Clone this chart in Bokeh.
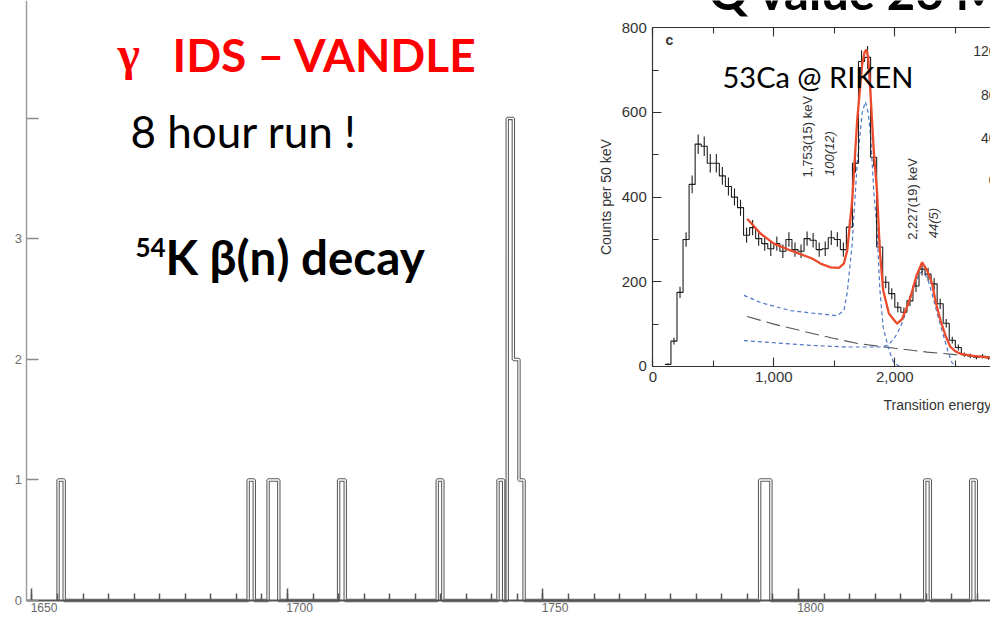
import numpy as np
from bokeh.plotting import figure
from bokeh.models import (Range1d, LinearAxis, SingleIntervalTicker, FixedTicker,
                          NumeralTickFormatter, Label)
from bokeh.core.properties import value
from bokeh.embed import file_html
from bokeh.resources import INLINE

# ---------------- main spectrum: IDS - VANDLE gamma, 54K beta(n) decay ----------------
gam_lo = [1655.1, 1692.3, 1696.2, 1710.0, 1729.3, 1741.2, 1743.0, 1744.2, 1745.3, 1792.4, 1824.7, 1833.7]
gam_hi = [1656.3, 1693.5, 1698.3, 1711.3, 1730.4, 1742.3, 1744.2, 1745.3, 1746.3, 1794.6, 1825.8, 1834.8]
gam_counts = [1, 1, 1, 1, 1, 1, 4, 2, 1, 1, 1, 1]
gam_xticks = [1650, 1700, 1750, 1800]
gam_xlabels = ["1650", "1700", "1750", "1800"]
gam_yticks = [0, 1, 2, 3, 4]

# ---------------- inset: 53Ca @ RIKEN neutron spectrum ----------------
ca_lo = [100, 150, 200, 250, 300, 350, 400, 450, 500, 550, 600, 650, 700, 750, 800, 850,
         900, 950, 1000, 1050, 1100, 1150, 1200, 1250, 1300, 1350, 1400, 1450, 1500, 1550,
         1600, 1650, 1700, 1750, 1800, 1850, 1900, 1950, 2000, 2050, 2100, 2150, 2200, 2250,
         2300, 2350, 2400, 2450, 2500, 2550, 2600, 2650, 2700, 2750]
ca_counts = [5, 60, 175, 300, 430, 525, 520, 480, 480, 450, 425, 400, 375, 310, 328, 302,
             290, 278, 290, 272, 300, 276, 272, 302, 298, 276, 278, 304, 300, 276,
             329, 480, 720, 730, 494, 282, 199, 172, 140, 128, 155, 190, 230, 218,
             195, 148, 102, 62, 45, 28, 25, 22, 24, 20]
ca_err = [2, 8, 13, 17, 21, 23, 23, 22, 22, 21, 21, 20, 19, 18, 18, 17,
          17, 17, 17, 16, 17, 17, 16, 17, 17, 17, 17, 17, 17, 17,
          18, 22, 27, 27, 22, 17, 14, 13, 12, 11, 12, 14, 15, 15,
          14, 12, 10, 8, 7, 5, 5, 5, 5, 4]
ca_bin = 50

fit_e = [780, 890, 1000, 1138, 1317, 1386, 1469, 1538, 1579, 1607, 1648, 1689, 1731, 1750,
         1765, 1780, 1800, 1826, 1854, 1876, 1904, 1951, 2019, 2060, 2100, 2130, 2180, 2226,
         2270, 2309, 2340, 2378, 2420, 2460, 2500, 2543, 2650, 2791]
fit_total = [349, 314, 290, 274, 255, 243, 234, 233, 243, 274, 392, 581, 715, 742,
             748, 730, 640, 510, 410, 274, 180, 125, 101, 112, 140, 164, 215, 246,
             225, 195, 150, 109, 72, 46, 36, 30, 25, 21]

p1_e = [753, 900, 1138, 1320, 1524, 1579, 1607, 1648, 1689, 1731, 1757, 1780, 1800, 1826,
        1854, 1876, 1904, 1951, 1990, 2040]
p1_val = [168, 150, 132, 126, 120, 132, 175, 290, 480, 600, 625, 600, 545, 415,
          320, 184, 92, 39, 10, 0]

p2_e = [753, 1000, 1300, 1600, 1900, 1950, 2000, 2050, 2100, 2150, 2200, 2230, 2270, 2310,
        2350, 2400, 2440, 2474, 2510]
p2_val = [61, 56, 50, 46, 46, 52, 68, 95, 135, 180, 218, 225, 208, 170,
          125, 75, 35, 8, 0]

bg_e = [780, 1000, 1276, 1500, 1700, 2000, 2267, 2500, 2791]
bg_val = [118, 100, 81, 66, 54, 43, 34, 28, 22]

peak_text = ["1,753(15) keV", "2,227(19) keV"]
peak_int = ["100(12)", "44(5)"]

W, H = 990, 620
p = figure(width=W, height=H, output_backend="svg", toolbar_location=None,
           x_range=Range1d(1643.836, 1837.578), y_range=Range1d(-0.166, 4.979),
           x_axis_location=None, y_axis_location=None, min_border=0,
           outline_line_color=None, background_fill_color="white",
           border_fill_color="white")
for g in p.grid:
    g.visible = False

p.extra_x_ranges = {"ix": Range1d(-5390.9, 2790.9)}
p.extra_y_ranges = {"iy": Range1d(-599.8, 864.2)}

# ---- main histogram outline (double scanned-looking line) ----
hx, hy = [], []
prev_hi = None
for lo, hi, c in zip(gam_lo, gam_hi, gam_counts):
    if prev_hi is None or abs(lo - prev_hi) > 1e-6:
        if prev_hi is not None:
            hx.append(prev_hi); hy.append(0)
        hx.append(lo); hy.append(0)
    hx += [lo, hi]
    hy += [c, c]
    prev_hi = hi
hx.append(prev_hi); hy.append(0)
p.line(hx, hy, line_color="#5a5a5a", line_width=3.4)
p.line(hx, hy, line_color="white", line_width=1.3)

gx = LinearAxis(fixed_location=0, bounds=(1649.0, 1840.0),
                ticker=SingleIntervalTicker(interval=50, num_minor_ticks=10))
gx.axis_line_color = "#555555"
gx.axis_line_width = 2.2
gx.major_tick_in = 12
gx.major_tick_out = 0
gx.minor_tick_in = 7
gx.minor_tick_out = 0
gx.major_tick_line_color = "#555555"
gx.minor_tick_line_color = "#555555"
gx.major_tick_line_width = 1.5
gx.minor_tick_line_width = 1.5
gx.major_label_text_color = None
p.add_layout(gx, "below")

gy = LinearAxis(fixed_location=1649.0, bounds=(0, 4.979),
                ticker=FixedTicker(ticks=gam_yticks),
                major_label_overrides={4: ""})
gy.axis_line_color = "#9a9a9a"
gy.axis_line_width = 1.4
gy.major_tick_in = 12
gy.major_tick_out = 0
gy.major_tick_line_color = "#8a8a8a"
gy.major_tick_line_width = 1.3
gy.minor_tick_line_color = None
gy.major_label_standoff = 5
gy.major_label_text_font = "Liberation Sans"
gy.major_label_text_font_size = "13px"
gy.major_label_text_color = "#707070"
p.add_layout(gy, "left")

p.text(x=gam_xticks, y=[0] * len(gam_xticks), text=gam_xlabels, x_offset=12, y_offset=3,
       text_align="center", text_baseline="top", text_font=value("Liberation Sans"),
       text_font_size="12px", text_color="#666666")

# ---- inset spectrum ----
ix_kw = dict(x_range_name="ix", y_range_name="iy")

p.line(bg_e, bg_val, line_color="#555555", line_width=1.1, line_dash="14 6", **ix_kw)
p.line(p1_e, p1_val, line_color="#4f77c7", line_width=1.2, line_dash="4 3", **ix_kw)
p.line(p2_e, p2_val, line_color="#4f77c7", line_width=1.2, line_dash="4 3", **ix_kw)

sx, sy = [], []
for lo, c in zip(ca_lo, ca_counts):
    sx += [lo, lo + ca_bin]
    sy += [c, c]
p.line(sx, sy, line_color="#1e1e1e", line_width=1.1, **ix_kw)
ctr = [lo + ca_bin / 2 for lo in ca_lo]
p.segment(x0=ctr, x1=ctr, y0=[c - e for c, e in zip(ca_counts, ca_err)],
          y1=[c + e for c, e in zip(ca_counts, ca_err)], line_color="#1e1e1e",
          line_width=1.1, **ix_kw)

p.line(fit_e, fit_total, line_color="#ec4a2c", line_width=2.3, **ix_kw)

ib = LinearAxis(fixed_location=0, bounds=(0, 2791), **ix_kw,
                ticker=SingleIntervalTicker(interval=1000, num_minor_ticks=2),
                formatter=NumeralTickFormatter(format="0,0"))
it = LinearAxis(fixed_location=800, bounds=(0, 2791), **ix_kw,
                ticker=SingleIntervalTicker(interval=1000, num_minor_ticks=2))
il = LinearAxis(fixed_location=0, bounds=(0, 800), **ix_kw,
                ticker=SingleIntervalTicker(interval=200, num_minor_ticks=2))
for ax in (ib, it, il):
    ax.axis_line_color = "#333333"
    ax.axis_line_width = 1.2
    ax.major_tick_in = 9
    ax.major_tick_out = 0
    ax.minor_tick_in = 6
    ax.minor_tick_out = 0
    ax.major_tick_line_color = "#333333"
    ax.minor_tick_line_color = "#333333"
    ax.major_tick_line_width = 1.1
    ax.minor_tick_line_width = 1.1
    ax.major_label_standoff = 6
    ax.major_label_text_font = "Liberation Sans"
    ax.major_label_text_font_size = "15px"
    ax.major_label_text_color = "#333333"
it.major_label_text_color = None
p.add_layout(ib, "below")
p.add_layout(it, "above")
p.add_layout(il, "left")

# inset annotations (rotated peak labels)
p.text(x=[1278, 2144], y=[446, 299], text=peak_text, angle=np.pi / 2,
       text_align="left", text_baseline="middle", text_font=value("Liberation Sans"),
       text_font_size="13px", text_color="#333333", **ix_kw)
p.text(x=[1459, 2316], y=[450, 303], text=peak_int, angle=np.pi / 2,
       text_align="left", text_baseline="middle", text_font=value("Liberation Sans"),
       text_font_style="italic", text_font_size="13px", text_color="#333333", **ix_kw)
p.text(x=[1907], y=[-90], text=["Transition energy (keV)"], text_align="left",
       text_baseline="middle", text_font=value("Liberation Sans"),
       text_font_size="14px", text_color="#333333", **ix_kw)
p.text(x=[-390], y=[400], text=["Counts per 50 keV"], angle=np.pi / 2,
       text_align="center", text_baseline="middle", text_font=value("Liberation Sans"),
       text_font_size="14px", text_color="#333333", **ix_kw)


def slide_label(x, ybase, text, fs, **kw):
    # Label boxes sit on their descent, so lift the anchor to put the baseline at ybase
    p.add_layout(Label(x=x, y=H - ybase + 0.39 * fs, x_units="screen", y_units="screen",
                       text=text, text_font_size=f"{fs}px", text_baseline="alphabetic", **kw))


slide_label(665, 45, "c", 14, text_font="Liberation Sans", text_font_style="bold",
            text_color="#333333")
for txt, yc in (("120", 50), ("80", 94), ("40", 137), ("0", 179)):
    p.add_layout(Label(x=996, y=H - yc, x_units="screen", y_units="screen", text=txt,
                       text_font="Liberation Sans", text_font_size="14px",
                       text_color="#333333", text_align="right", text_baseline="middle"))

# slide texts
slide_label(708, 10, "Q value 26 MeV", 49, text_font="Lato", text_font_style="bold",
            text_color="black")
slide_label(117, 72, "γ", 48, text_font="Liberation Serif", text_font_style="bold",
            text_color="#ff0000")
slide_label(172, 72, "IDS – VANDLE", 46, text_font="Lato", text_font_style="bold",
            text_color="#ff0000")
slide_label(130, 148, "8 hour run !", 44, text_font="Lato", text_color="black")
slide_label(135, 257, "54", 26, text_font="Lato", text_font_style="bold",
            text_color="black")
slide_label(165, 275, "K β(n) decay", 47.5, text_font="Lato", text_font_style="bold",
            text_color="black")
slide_label(722, 87, "53Ca @ RIKEN", 29, text_font="Lato", text_color="black")

open("out.html", "w").write(file_html(p, INLINE))
